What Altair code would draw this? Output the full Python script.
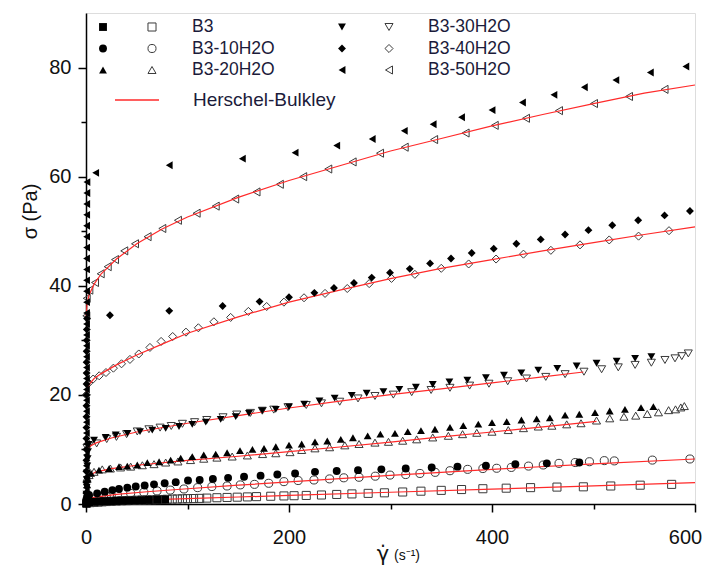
import altair as alt
import pandas as pd

series_names = ["B3", "B3-10H2O", "B3-20H2O", "B3-30H2O", "B3-40H2O", "B3-50H2O"]
shapes = ["square", "circle", "triangle-up", "triangle-down", "diamond", "triangle-left"]

# ---------------- open symbols (fitted with Herschel-Bulkley) ----------------
b3_open_x = [1, 4, 8, 12, 16, 20, 25, 30, 35, 40, 45, 50, 55, 60, 65, 70, 75, 80, 85, 90,
             95, 100, 106, 112, 119, 129, 139, 149, 159, 168, 182, 195, 205, 217, 232, 247, 262, 278, 294, 312,
             330, 350, 370, 391, 414, 438, 464, 490, 517, 546, 577]
b3_open_y = [0.2, 0.25, 0.3, 0.35, 0.4, 0.45, 0.5, 0.55, 0.6, 0.62, 0.66, 0.7, 0.72, 0.75, 0.78, 0.8, 0.83, 0.86, 0.9, 0.92,
             0.95, 0.98, 1.0, 1.03, 1.08, 1.15, 1.2, 1.25, 1.3, 1.35, 1.42, 1.48, 1.52, 1.57, 1.65, 1.75, 1.85, 1.95, 2.05, 2.2,
             2.35, 2.5, 2.65, 2.8, 2.9, 3.0, 3.1, 3.15, 3.3, 3.45, 3.6]

b3_10_open_x = [2, 6, 10, 15, 20, 25, 31, 44, 57, 70, 83, 96.5, 110, 124, 139, 152, 166, 180, 195, 209,
                224.6, 240, 254, 269, 285, 299.5, 315, 329, 344, 358.6, 376, 391, 404.6, 419, 436, 450.5, 466, 482, 496, 510.6,
                520.5, 558, 595]
b3_10_open_y = [0.6, 0.9, 1.1, 1.3, 1.45, 1.55, 1.65, 1.95, 2.15, 2.4, 2.55, 2.75, 3.0, 3.2, 3.3, 3.5, 3.6, 3.8, 4.1, 4.3,
                4.4, 4.6, 4.8, 4.9, 5.1, 5.3, 5.4, 5.6, 5.8, 6.1, 6.35, 6.5, 6.55, 6.7, 6.95, 7.15, 7.45, 7.6, 7.75, 7.95,
                7.9, 8.05, 8.25]

b3_20_open_x = [1, 3, 7.9, 16, 24, 34, 44, 55.5, 67, 78.5, 90.6, 103, 116, 129, 144, 159, 174, 187, 201, 212.5,
                225.6, 240, 255, 269, 284.7, 298, 312, 325.8, 341.6, 357, 371, 385, 400, 416, 431, 445.6, 459, 473.6, 487.7, 503,
                516, 530, 541.6, 553, 564, 574, 580.8, 586, 589.5]
b3_20_open_y = [4.8, 5.3, 5.9, 6.35, 6.5, 6.7, 6.85, 7.1, 7.3, 7.6, 7.8, 8.05, 8.3, 8.5, 8.7, 8.9, 9.15, 9.3, 9.5, 9.9,
                10.2, 10.4, 10.75, 11.0, 11.25, 11.4, 11.6, 11.85, 12.2, 12.5, 12.8, 13.05, 13.25, 13.55, 13.9, 14.2, 14.35, 14.6, 14.8, 15.3,
                15.7, 16.0, 16.2, 16.5, 16.8, 17.2, 17.35, 17.7, 17.95]

b3_30_open_x = [1, 3, 10.5, 20.4, 30, 40, 50.5, 62, 73, 84, 95, 107, 119, 135, 148.5, 162, 173.7, 185, 199, 217,
                232, 250, 268, 284.7, 302.8, 320.9, 340, 358.6, 378, 397, 415.5, 434, 453, 472, 490.6, 508, 524.4, 541, 557, 570.4,
                580.3, 587, 593.4]
b3_30_open_y = [10.3, 10.7, 11.1, 11.9, 12.3, 12.8, 13.3, 13.7, 14.0, 14.3, 14.7, 15.0, 15.4, 15.9, 16.4, 16.7, 17.1, 17.3, 17.75, 18.15,
                18.45, 18.75, 19.35, 19.8, 20.05, 20.5, 20.9, 21.3, 21.7, 22.05, 22.5, 23.0, 23.3, 23.8, 24.25, 24.7, 25.05, 25.5, 25.9, 26.4,
                26.7, 27.1, 27.6]

b3_40_open_x = [0.3, 2.3, 7, 13, 19.7, 27, 35, 43.3, 52, 63, 74, 85.4, 98.5, 110.7, 126, 142.5, 160, 178, 195, 214.8,
                235.5, 257.4, 279, 301, 324, 350, 377, 404, 431, 458, 486.7, 515.5, 544.4, 574.4]
b3_40_open_y = [20.0, 22.1, 22.9, 23.5, 24.1, 24.9, 25.7, 26.5, 27.5, 28.7, 29.8, 30.7, 31.5, 32.3, 33.4, 34.2, 35.3, 36.2, 37.0, 37.8,
                38.6, 39.5, 40.4, 41.35, 42.1, 43.2, 44.0, 44.9, 45.8, 46.5, 47.5, 48.4, 49.1, 50.1]

b3_50_open_x = [0.3, 0.7, 3.3, 8.9, 14.5, 21.4, 28.6, 37.7, 48.3, 60.7, 75.2, 90.6, 109, 127.8, 147, 168, 191, 214, 238.7, 262.7,
                289.7, 314, 343, 374, 402.7, 433.5, 466, 500.5, 535, 570]
b3_50_open_y = [34.5, 37.7, 39.2, 40.6, 42.2, 43.5, 44.8, 46.4, 47.7, 49.0, 50.5, 52.0, 53.3, 54.6, 55.9, 57.2, 58.6, 60.0, 61.4, 62.7,
                64.3, 65.4, 66.8, 68.0, 69.4, 70.7, 72.1, 73.4, 74.7, 76.0]

# ---------------- filled symbols ----------------
b3_fill_x = [0.3, 0.5, 0.8, 3, 8, 13, 18, 24, 30, 36, 42, 48, 55, 62, 70, 78]
b3_fill_y = [0.05, 0.15, 0.25, 0.35, 0.4, 0.45, 0.5, 0.52, 0.56, 0.6, 0.63, 0.66, 0.7, 0.74, 0.78, 0.82]

b3_10_fill_x = [0.3, 0.6, 1.0, 3, 11, 18.4, 26, 32.5, 40.7, 49, 57.8, 67, 77.5,
                88.4, 100.5, 112, 125, 140, 155.7, 172, 188.5, 206, 225.6,
                247, 268, 291, 315, 340.6, 366, 394, 423, 454, 486]
b3_10_fill_y = [0.3, 0.8, 1.3, 1.65, 1.95, 2.26, 2.55, 2.75, 3.0, 3.2, 3.4, 3.6, 3.8,
                4.0, 4.3, 4.4, 4.6, 4.8, 5.0, 5.2, 5.4, 5.6, 5.9,
                6.05, 6.2, 6.35, 6.5, 6.7, 6.85, 7.0, 7.3, 7.45, 7.6]

b3_20_fill_x = [0.3, 0.5, 0.8, 1.2, 1.6, 5, 12.8, 22.7, 32.5, 40.7, 50.5, 60.4, 72, 83.4, 93.3,
                104.7, 116, 127.8, 139, 151.7, 164, 175.4, 187, 200, 212.5,
                225.6, 237.7, 251, 263, 277.5, 290, 304.4, 317, 330, 343.8,
                358.6, 371.7, 386.5, 400, 414.5, 429, 444, 457, 472, 486,
                501.5, 516, 531, 546.8, 559]
b3_20_fill_y = [0.5, 1.5, 2.5, 3.5, 4.5, 5.6, 6.2, 6.5, 6.85, 6.95, 7.15, 7.6, 7.75, 8.05, 8.4,
                8.7, 9.0, 9.15, 9.4, 9.8, 10.0, 10.2, 10.5, 10.8, 11.0,
                11.4, 11.55, 11.85, 12.15, 12.5, 12.8, 12.95, 13.25, 13.45, 13.7,
                14.05, 14.35, 14.65, 14.9, 15.1, 15.4, 15.6, 15.8, 16.3, 16.45,
                16.75, 17.05, 17.35, 17.65, 17.85]

b3_30_fill_x = [0.3, 0.5, 0.7, 0.9, 1.1, 1.3, 1.6, 2.0, 2.5,
                7.9, 19.4, 29.3, 40.7, 53.2, 65.3, 78.5, 91.6, 104.7, 118,
                132.7, 147.5, 160.6, 173.7, 187, 200, 215, 230, 245, 261.8,
                276.5, 293, 308.7, 325, 341.6, 358, 375.7, 394, 411.8, 428.9,
                445.6, 464.3, 483.4, 503, 522.8, 541, 557]
b3_30_fill_y = [0.5, 1.8, 3.1, 4.4, 5.7, 7.0, 8.3, 9.6, 10.9,
                11.7, 12.2, 12.65, 12.95, 13.25, 13.55, 13.85, 14.2, 14.6, 15.0,
                15.5, 16.0, 16.6, 17.1, 17.35, 17.8, 18.3, 18.9, 19.4, 19.9,
                20.3, 20.6, 21.0, 21.4, 21.9, 22.4, 22.7, 23.15, 23.6, 24.05,
                24.55, 24.85, 25.3, 25.8, 26.2, 26.7, 27.0]

b3_40_fill_x = [0.3, 0.3, 0.35, 0.35, 0.4, 0.4, 0.45, 0.45, 0.5, 0.5, 0.55, 0.55, 0.6, 0.6, 0.65, 0.7, 0.8, 1.0,
                23.6, 82, 134.6, 171, 200, 225, 244.3, 264, 281.5, 299.5,
                319, 339, 359.6, 380, 401.7, 424, 448, 472, 495, 518.5,
                544, 570, 595]
b3_40_fill_y = [0, 2, 4, 6, 8, 10, 12, 14, 16, 18, 20, 22, 24, 26, 28, 30, 32, 34,
                34.6, 35.4, 36.3, 37.1, 37.9, 38.7, 39.6, 40.5, 41.5, 42.4,
                43.1, 44.1, 45.0, 46.0, 46.8, 47.7, 48.5, 49.4, 50.2, 51.1,
                52.0, 52.9, 53.7]

b3_50_fill_x = [0.3, 0.3, 0.3, 0.3, 0.35, 0.35, 0.35, 0.35, 0.4, 0.4, 0.4, 0.4, 0.45, 0.45, 0.45,
                0.45, 0.5, 0.5, 0.5, 0.5, 0.55, 0.55, 0.55, 0.6, 0.6, 0.6, 0.65, 0.7, 0.8, 0.9,
                9.5, 82, 154, 206, 247, 282, 313.6, 342, 370, 400, 430, 461, 491, 522, 556, 591]
b3_50_fill_y = [1, 3, 5, 7, 9, 11, 13, 15, 17, 19, 21, 23, 25, 27, 29,
                31, 33, 35, 37, 39, 41, 43, 45, 47, 49, 51, 53, 55, 57, 59,
                60.7, 62.1, 63.3, 64.4, 65.7, 66.9, 68.4, 69.6, 70.9, 72.2, 73.6, 75.0, 76.4, 77.7, 79.1, 80.2]

# ---------------- Herschel-Bulkley fitted curves ----------------
b3_fit_x = [0, 10, 25, 50, 100, 150, 200, 300, 400, 500, 600]
b3_fit_y = [0.2, 0.35, 0.5, 0.7, 1.0, 1.28, 1.57, 2.15, 2.73, 3.32, 3.9]

b3_10_fit_x = [0, 5, 15, 30, 60, 100, 150, 200, 300, 400, 500, 600]
b3_10_fit_y = [0.9, 1.15, 1.4, 1.75, 2.25, 2.8, 3.45, 4.05, 5.25, 6.35, 7.35, 8.25]

b3_20_fit_x = [0, 3, 10, 25, 50, 100, 150, 200, 250, 300, 350, 400, 450, 503]
b3_20_fit_y = [4.4, 5.2, 5.9, 6.5, 7.1, 8.0, 8.75, 9.6, 10.45, 11.35, 12.3, 13.2, 14.15, 15.15]

b3_30_fit_x = [0, 2, 10, 25, 50, 100, 150, 200, 250, 300, 350, 400, 450, 490]
b3_30_fit_y = [9.7, 10.4, 11.2, 12.1, 13.2, 14.8, 16.2, 17.6, 18.85, 20.05, 21.1, 22.2, 23.3, 24.2]

b3_40_fit_x = [0, 1, 3, 8, 15, 30, 50, 75, 100, 150, 200, 250, 300, 350, 400, 450, 500, 550, 600]
b3_40_fit_y = [19.6, 20.9, 21.9, 23.0, 23.9, 25.5, 27.3, 29.3, 31.3, 34.3, 37.0, 39.2, 41.3, 43.2, 44.8, 46.4, 47.9, 49.4, 50.8]

b3_50_fit_x = [0, 1, 3, 8, 15, 30, 50, 75, 100, 150, 200, 250, 300, 350, 400, 450, 500, 550, 600]
b3_50_fit_y = [34.0, 36.6, 38.3, 40.3, 42.2, 44.9, 47.7, 50.4, 52.6, 56.2, 59.3, 62.0, 64.7, 67.0, 69.3, 71.4, 73.4, 75.3, 76.8]

legend_fit_label = "Herschel-Bulkley"
x_ticks = [0, 100, 200, 300, 400, 500, 600]
y_ticks = [0, 10, 20, 30, 40, 50, 60, 70, 80]


def frame(pairs):
    parts = []
    for name, xs, ys in pairs:
        parts.append(pd.DataFrame({"x": xs, "y": ys, "series": name}))
    return pd.concat(parts, ignore_index=True)


df_open = frame(zip(series_names,
                    [b3_open_x, b3_10_open_x, b3_20_open_x, b3_30_open_x, b3_40_open_x, b3_50_open_x],
                    [b3_open_y, b3_10_open_y, b3_20_open_y, b3_30_open_y, b3_40_open_y, b3_50_open_y]))
df_fill = frame(zip(series_names,
                    [b3_fill_x, b3_10_fill_x, b3_20_fill_x, b3_30_fill_x, b3_40_fill_x, b3_50_fill_x],
                    [b3_fill_y, b3_10_fill_y, b3_20_fill_y, b3_30_fill_y, b3_40_fill_y, b3_50_fill_y]))
df_fit = frame(zip(series_names,
                   [b3_fit_x, b3_10_fit_x, b3_20_fit_x, b3_30_fit_x, b3_40_fit_x, b3_50_fit_x],
                   [b3_fit_y, b3_10_fit_y, b3_20_fit_y, b3_30_fit_y, b3_40_fit_y, b3_50_fit_y]))

W, H = 609, 491
XMAX, YMAX = 600, 90


def px2x(px):
    return px / W * XMAX


def py2y(py):
    return YMAX - py / H * YMAX


# legend layout (in plot pixels, converted to data units)
leg_rows = []
for i, name in enumerate(series_names):
    col, row = i // 3, i % 3
    leg_rows.append({
        "series": name,
        "fx": px2x([17, 256][col]),
        "ox": px2x([66, 303][col]),
        "tx": px2x([106, 342][col]),
        "ly": py2y(14 + row * 21.5),
    })
df_leg = pd.DataFrame(leg_rows)
df_leg_line = pd.DataFrame({"x": [px2x(29), px2x(73)], "y": [py2y(87), py2y(87)]})
df_leg_fit_text = pd.DataFrame({"x": [px2x(107)], "y": [py2y(87)], "t": [legend_fit_label]})

xscale = alt.Scale(domain=[0, XMAX], nice=False, zero=False)
yscale = alt.Scale(domain=[0, YMAX], nice=False, zero=False)
shape_scale = alt.Scale(domain=series_names, range=shapes)

x_axis = alt.Axis(
    values=x_ticks, labelExpr="datum.value % 200 === 0 ? datum.label : ''",
    tickSize={"condition": {"test": "datum.value % 200 === 0", "value": 8}, "value": 5},
    labelOffset={"condition": {"test": "datum.value === 600", "value": -10}, "value": 0},
    title=None, grid=False, labelFontSize=20, labelFont="Liberation Sans", labelColor="#111",
    labelPadding=15, domainColor="black", domainWidth=1.5, tickColor="black", tickWidth=1.5,
    labelFlush=False, labelOverlap=False,
)
y_axis = alt.Axis(
    values=y_ticks, labelExpr="datum.value % 20 === 0 ? datum.label : ''",
    tickSize={"condition": {"test": "datum.value % 20 === 0", "value": 8}, "value": 5},
    title="σ (Pa)", titleFontSize=20, titleFont="Liberation Sans", titleFontWeight="normal",
    titleColor="#111", titleAngle=-90, titleX=-56, titleY=198, titleAlign="center", titleBaseline="middle",
    grid=False, labelFontSize=20, labelFont="Liberation Sans", labelColor="#111",
    labelPadding=7, domainColor="black", domainWidth=1.5, tickColor="black", tickWidth=1.5,
    labelFlush=False, labelOverlap=False,
)

X = alt.X("x:Q", scale=xscale, axis=x_axis)
Y = alt.Y("y:Q", scale=yscale, axis=y_axis)

open_layer = alt.Chart(df_open).mark_point(filled=False, size=65, strokeWidth=1, color="#3a3a3a", opacity=1).encode(
    x=X, y=Y, shape=alt.Shape("series:N", scale=shape_scale, legend=None))
fit_layer = alt.Chart(df_fit).mark_line(color="#ff2a2a", strokeWidth=1.2).encode(
    x="x:Q", y="y:Q", detail="series:N")
fill_layer = alt.Chart(df_fill).mark_point(filled=True, size=62, color="black", opacity=1).encode(
    x="x:Q", y="y:Q", shape=alt.Shape("series:N", scale=shape_scale, legend=None))

leg_fill = alt.Chart(df_leg).mark_point(filled=True, size=62, color="black", opacity=1).encode(
    x="fx:Q", y="ly:Q", shape=alt.Shape("series:N", scale=shape_scale, legend=None))
leg_open = alt.Chart(df_leg).mark_point(filled=False, size=65, strokeWidth=1, color="#3a3a3a", opacity=1).encode(
    x="ox:Q", y="ly:Q", shape=alt.Shape("series:N", scale=shape_scale, legend=None))
leg_text = alt.Chart(df_leg).mark_text(align="left", baseline="middle", fontSize=17.5,
                                       font="Liberation Sans", color="#1b1b3a").encode(
    x="tx:Q", y="ly:Q", text="series:N")
leg_line = alt.Chart(df_leg_line).mark_line(color="#ff2a2a", strokeWidth=1.5).encode(x="x:Q", y="y:Q")
leg_fit_text = alt.Chart(df_leg_fit_text).mark_text(align="left", baseline="middle", fontSize=19,
                                                    font="Liberation Sans", color="#1b1b3a").encode(
    x="x:Q", y="y:Q", text="t:N")

df_xt1 = pd.DataFrame({"t": ["γ̇"]})
df_xt2 = pd.DataFrame({"t": ["(s⁻¹)"]})
xt1 = alt.Chart(df_xt1).mark_text(align="center", baseline="middle", fontSize=21, font="DejaVu Sans",
                                  color="#111").encode(x=alt.value(297), y=alt.value(542), text="t:N")
xt2 = alt.Chart(df_xt2).mark_text(align="left", baseline="middle", fontSize=14, font="Liberation Sans",
                                  color="#111").encode(x=alt.value(308), y=alt.value(543), text="t:N")

chart = alt.layer(open_layer, fit_layer, fill_layer, leg_fill, leg_open, leg_text, leg_line, leg_fit_text,
                  xt1, xt2).properties(
    width=W, height=H,
    autosize=alt.AutoSizeParams(type="none"),
    padding={"left": 78, "top": 5, "right": 9, "bottom": 66},
).configure_view(stroke="black", strokeWidth=1.5).configure(background="white")

chart.save("out.html", embed_options={"renderer": "svg", "actions": False})
